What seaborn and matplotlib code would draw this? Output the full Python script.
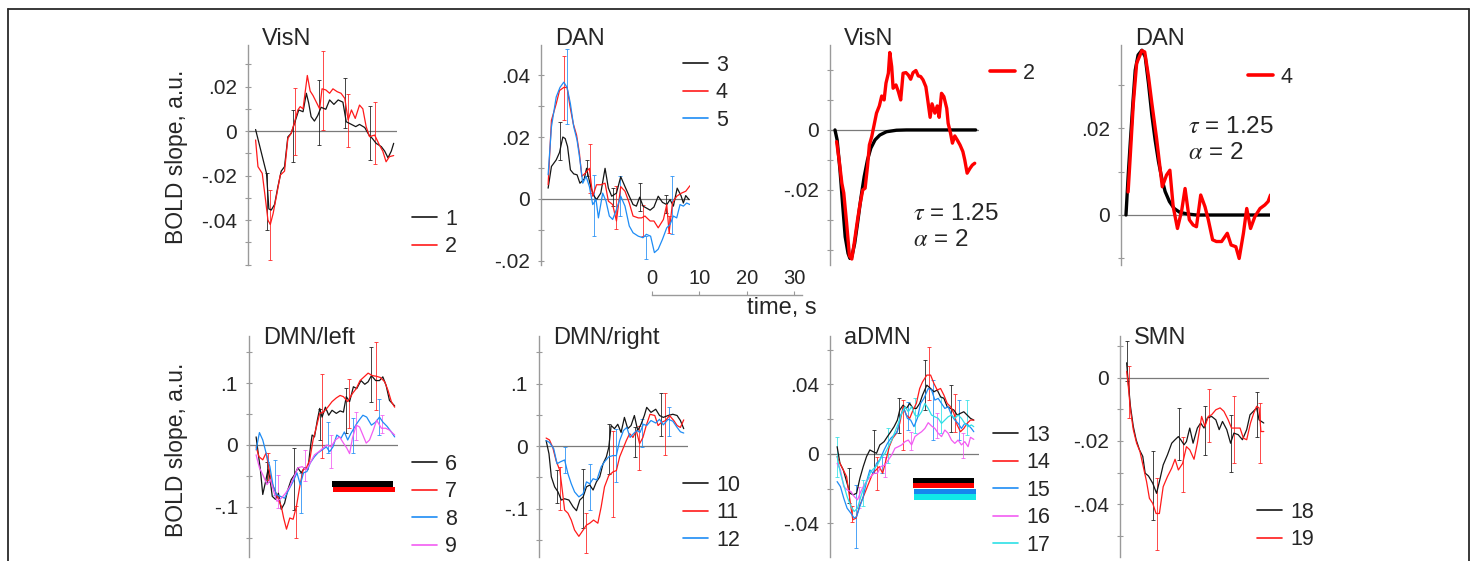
import numpy as np
import matplotlib
matplotlib.use("Agg")
import matplotlib.pyplot as plt
import seaborn as sns
from matplotlib.lines import Line2D
from matplotlib.ticker import FuncFormatter, MultipleLocator, FixedLocator

sns.set_style("white")
plt.rcParams["font.family"] = ["Liberation Sans", "DejaVu Sans"]
plt.rcParams["mathtext.fontset"] = "stix"
plt.rcParams["axes.unicode_minus"] = False

# ---------------- data: (time s, BOLD slope) ----------------
vis1 = [(1.6,.0007),(2.5,-.007),(3.2,-.013),(3.9,-.019),(4.4,-.035),(4.9,-.0355),(5.6,-.033),(6.3,-.025),(7.0,-.018),(7.7,-.016),(8.4,-.0026),(9.1,-.001),(9.8,.0035),(10.7,.0095),(11.6,.0087),(12.3,.017),(12.8,.0125),(13.3,.0065),(14.0,.0045),(14.7,.007),(15.4,.0107),(16.4,.0098),(17.2,.014),(18.1,.012),(19.0,.014),(20.0,.013),(20.7,.0042),(21.8,.003),(22.7,.002),(23.5,.003),(24.6,.0016),(25.5,-.0018),(26.2,-.0033),(27.0,-.0055),(28.1,-.007),(28.8,-.009),(29.5,-.012),(30.2,-.009),(30.7,-.0055)]
vis2 = [(1.6,-.004),(2.1,-.016),(3.0,-.019),(3.7,-.031),(4.2,-.040),(4.7,-.042),(5.3,-.037),(6.1,-.028),(6.8,-.0198),(7.7,-.018),(8.4,-.0033),(9.1,-.001),(9.8,.004),(10.5,.0095),(11.0,.011),(11.6,.010),(12.5,.025),(13.1,.018),(13.7,.016),(14.4,.013),(15.1,.010),(15.6,.019),(16.4,.0185),(17.2,.017),(17.9,.019),(18.8,.0177),(19.6,.017),(20.4,.0147),(21.1,.005),(21.8,.0095),(22.6,.0057),(23.5,.0117),(24.2,.010),(24.9,.002),(25.6,-.0025),(26.7,-.0018),(27.7,-.0063),(28.4,-.009),(29.1,-.0138),(29.8,-.0115),(30.7,-.011)]
vis1_err = [(3.9,-.0446,-.019),(9.5,-.0138,.0095),(14.9,-.0063,.023),(20.4,.0012,.0237),(25.8,-.013,.0113)]
vis2_err = [(4.6,-.058,-.0266),(10.0,-.0108,.0192),(15.7,.0005,.0362),(21.0,-.007,.0167),(26.7,-.0149,.0129)]

dan3 = [(1.5,.0035),(2.2,.0105),(3.2,.0126),(3.9,.015),(4.6,.020),(5.1,.0195),(5.6,.0169),(6.2,.0094),(6.9,.0081),(7.6,.0078),(8.2,.0051),(9.1,.0064),(9.6,.0099),(10.3,.0051),(11.0,.0014),(11.7,-.0002),(12.6,.0019),(13.5,.0099),(14.2,.0035),(14.9,.0009),(15.9,.0019),(16.8,.0072),(17.7,.004),(18.6,.0009),(19.4,-.0018),(20.1,-.0023),(20.8,.0006),(21.5,-.0023),(22.2,-.0029),(23.0,-.0036),(23.8,-.0026),(24.7,.0009),(25.6,-.0011),(26.5,-.0018),(27.2,-.0002),(27.9,-.0023),(28.7,.0035),(29.5,.0011),(30.0,-.0013),(30.5,.0011),(31.2,-.0002)]
dan4 = [(1.5,.0046),(2.2,.0254),(3.2,.0307),(3.9,.035),(4.8,.036),(5.5,.036),(6.1,.030),(6.8,.0243),(7.5,.0206),(8.1,.0147),(8.6,.0073),(9.3,.0083),(10.2,.0099),(10.9,.0009),(11.7,.0046),(12.6,.0046),(13.5,.0051),(14.2,-.0007),(15.1,-.0018),(15.9,-.0071),(16.8,.004),(17.7,.0025),(18.6,-.0013),(19.4,-.0055),(20.5,-.0061),(21.2,-.0061),(21.9,-.0055),(23.0,-.0071),(23.8,-.0071),(24.7,-.0093),(25.8,-.0066),(26.5,-.0018),(27.0,-.0109),(27.7,-.0013),(28.6,.0009),(29.6,.0019),(30.5,.0025),(31.4,.0043)]
dan5 = [(1.5,.0078),(2.2,.0233),(3.2,.0329),(4.0,.036),(4.8,.0377),(5.5,.036),(6.2,.0307),(6.9,.0233),(7.6,.019),(8.2,.0126),(8.8,.0051),(9.5,.0073),(10.2,.004),(10.9,-.0018),(11.6,-.0002),(12.1,-.0061),(13.0,.0019),(13.7,-.0007),(14.4,-.0055),(15.1,-.0066),(15.9,-.0034),(16.8,.0009),(17.7,-.0023),(18.6,-.0087),(19.4,-.0109),(20.5,-.012),(21.5,-.0125),(22.2,-.0114),(23.1,-.012),(23.9,-.0173),(24.7,-.0162),(25.6,-.013),(26.5,-.0093),(27.2,-.0082),(27.9,-.0055),(28.6,-.0061),(29.3,-.0018),(30.0,-.0023),(30.7,-.0013),(31.4,-.0018)]
dan3_err = [(4.0,.0126,.0249),(9.6,.0073,.0126),(15.2,-.0023,.0035),(20.8,-.0039,.0051),(26.3,-.0045,.0014)]
dan4_err = [(4.8,.0254,.0462),(10.3,.0019,.0179),(15.9,-.0098,.0041),(21.4,-.012,-.0018),(26.9,-.0109,-.0055)]
dan5_err = [(5.5,.0243,.0483),(11.2,-.012,.0078),(16.6,-.0055,.0073),(22.2,-.0194,-.012),(27.7,-.0114,.0073)]

fitvis_red = [(1.4,-.0039),(2.0,-.011),(2.5,-.0178),(2.9,-.021),(3.5,-.031),(4.1,-.042),(4.6,-.043),(5.1,-.0378),(5.8,-.030),(6.3,-.025),(6.9,-.020),(7.4,-.0194),(7.9,-.0122),(8.3,-.005),(8.8,-.0022),(9.3,.0017),(9.8,.0056),(10.4,.008),(10.9,.0113),(11.4,.010),(11.8,.0156),(12.3,.0189),(12.6,.0258),(13.0,.0211),(13.3,.0139),(13.9,.015),(14.4,.0128),(14.9,.010),(15.4,.0189),(16.0,.0191),(16.5,.0183),(17.0,.0169),(17.5,.0191),(18.1,.0198),(18.6,.018),(19.1,.0178),(19.6,.0167),(20.2,.0144),(20.5,.0111),(21.1,.0042),(21.5,.0087),(22.1,.0056),(22.6,.008),(23.0,.0042),(23.5,.0122),(24.0,.0111),(24.6,.0072),(24.9,.0022),(25.4,-.0011),(25.8,-.0044),(26.3,-.002),(26.8,-.0033),(27.4,-.005),(28.0,-.0072),(28.4,-.010),(28.9,-.0144),(29.5,-.0128),(30.0,-.0117),(30.5,-.0111)]
fitvis_model = [(1.05,0),(1.5,-.0033),(2.1,-.0133),(2.7,-.0256),(3.2,-.0356),(3.8,-.0411),(4.2,-.0428),(4.6,-.0422),(5.2,-.0378),(5.8,-.0311),(6.5,-.0228),(7.2,-.0156),(7.9,-.010),(8.6,-.0061),(9.5,-.0033),(10.5,-.0017),(11.9,-.0006),(14.0,-.0001),(16.1,0),(30.7,0)]

fitdan_red = [(1.5,.0053),(1.9,.0126),(2.6,.0257),(3.3,.0349),(4.4,.0378),(5.0,.0375),(5.8,.0318),(6.5,.0257),(7.5,.0176),(8.2,.0111),(8.7,.0065),(9.6,.0092),(10.3,.0103),(11.0,.0019),(11.9,-.0031),(12.8,.0011),(13.5,.0061),(14.4,-.0011),(15.2,-.0023),(15.9,-.0027),(16.8,.0046),(17.7,.0019),(18.4,-.0011),(19.3,-.0057),(20.1,-.0061),(21.2,-.0061),(22.4,-.0042),(23.2,-.0069),(24.2,-.0073),(24.9,-.010),(25.8,-.0042),(26.5,.0015),(27.3,-.0031),(28.2,-.0004),(29.3,.0015),(30.3,.0023),(31.0,.0031),(31.5,.0046)]
fitdan_model = [(1.05,0),(1.5,.0088),(1.9,.0157),(2.5,.0257),(3.0,.0333),(3.6,.0368),(4.4,.0379),(5.1,.0364),(5.8,.0302),(6.5,.023),(7.2,.0172),(7.9,.0123),(8.6,.0084),(9.3,.0054),(10.2,.0031),(11.2,.0015),(12.4,.0006),(14.2,.0002),(15.9,0),(31.4,0)]

dmnl6 = [(1.5,.013),(1.9,-.011),(2.4,-.040),(2.9,-.080),(3.5,-.059),(4.0,-.040),(4.4,-.053),(4.9,-.083),(5.6,-.088),(6.2,-.078),(6.8,-.104),(7.5,-.094),(8.2,-.072),(8.9,-.056),(9.6,-.048),(10.3,-.037),(11.0,-.045),(11.7,-.037),(12.4,-.040),(13.0,0),(13.3,.016),(13.8,.013),(14.4,.040),(14.9,.059),(15.4,.045),(16.1,.061),(16.8,.048),(17.5,.056),(18.4,.051),(19.2,.055),(19.9,.053),(20.5,.078),(21.2,.070),(22.0,.094),(22.7,.091),(23.6,.104),(24.4,.098),(25.1,.102),(25.8,.112),(26.7,.104),(27.5,.104),(28.2,.110),(28.9,.096),(29.6,.072),(30.7,.063)]
dmnl7 = [(1.5,-.003),(2.1,-.019),(2.9,-.024),(3.6,-.013),(4.2,-.037),(4.7,-.059),(5.4,-.072),(6.1,-.086),(6.8,-.099),(7.3,-.118),(7.9,-.136),(8.6,-.118),(9.3,-.120),(10.0,-.099),(10.7,-.067),(11.4,-.040),(12.1,-.037),(12.8,-.024),(13.5,.008),(14.2,.029),(14.9,.051),(15.7,.053),(16.6,.061),(17.5,.070),(18.4,.076),(19.2,.080),(19.9,.078),(20.8,.070),(21.8,.083),(22.6,.091),(23.4,.104),(24.4,.111),(25.1,.116),(26.0,.112),(26.8,.111),(27.7,.109),(28.6,.102),(29.3,.088),(30.0,.070),(30.7,.061)]
dmnl8 = [(1.5,-.008),(2.2,.020),(2.9,.008),(3.6,-.013),(4.4,-.035),(5.1,-.067),(5.8,-.080),(6.6,-.083),(7.5,-.086),(8.4,-.072),(9.3,-.059),(10.1,-.045),(10.8,-.064),(11.5,-.045),(12.2,-.043),(12.9,-.029),(13.8,-.019),(14.5,-.013),(15.4,-.008),(16.3,-.003),(17.0,-.011),(17.7,-.003),(18.5,.016),(19.4,.011),(20.1,.021),(20.8,.008),(21.5,.019),(22.5,.032),(23.2,.040),(24.0,.048),(24.8,.045),(25.8,.032),(26.7,.037),(27.5,.045),(28.2,.037),(29.1,.030),(30.0,.021),(30.7,.013)]
dmnl9 = [(1.5,-.016),(2.2,-.037),(2.9,-.048),(3.8,-.064),(4.5,-.056),(5.2,-.075),(5.9,-.091),(6.8,-.086),(7.7,-.078),(8.6,-.067),(9.4,-.053),(10.3,-.037),(11.2,-.035),(12.1,-.040),(12.9,-.029),(13.8,-.016),(14.7,-.011),(15.6,-.005),(16.4,0),(17.3,-.003),(18.2,.008),(19.1,.013),(19.9,.003),(20.6,-.005),(21.2,-.014),(21.8,.011),(22.6,.032),(23.3,.029),(24.0,.016),(24.7,.003),(25.4,.008),(26.2,.024),(26.9,.040),(27.9,.027),(28.8,.027),(29.6,.024),(30.7,.016)]
dmnl6_err = [(3.8,-.0604,-.0283),(9.4,-.1043,-.0053),(14.9,.008,.0588),(20.4,.0187,.0925),(25.8,.0695,.1578)]
dmnl7_err = [(4.0,-.0561,-.0134),(10.0,-.1497,-.0989),(15.4,-.0214,.115),(21.1,.0267,.107),(26.7,.0561,.1658)]
dmnl8_err = [(5.4,-.0802,-.0241),(11.0,-.1096,-.0455),(16.6,-.0134,.0374),(21.9,-.0134,.0428),(27.4,.016,.0749)]
dmnl9_err = [(6.1,-.1016,-.0481),(11.7,-.0588,-.008),(17.3,-.0374,.016),(22.6,.008,.0535),(28.1,.0187,.0481)]
dmnl_sig = [(17.4,30.4,-.0673,-.058,"#000000"),(17.6,30.7,-.0753,-.0673,"#ff0000")]

dmnr10 = [(1.5,.009),(2.1,-.012),(2.6,-.049),(3.3,-.065),(4.0,-.073),(4.7,-.086),(5.4,-.084),(6.3,-.086),(7.2,-.097),(7.9,-.103),(8.6,-.086),(9.3,-.081),(10.0,-.065),(10.7,-.062),(11.4,-.070),(12.1,-.057),(12.8,-.049),(13.5,-.028),(14.2,-.017),(14.7,-.002),(15.2,.033),(15.9,.028),(16.6,.035),(17.3,.022),(18.0,.046),(18.7,.028),(19.4,.033),(20.1,.049),(20.8,.025),(21.5,.035),(22.2,.049),(22.7,.062),(23.6,.054),(24.6,.059),(25.4,.049),(26.2,.046),(27.2,.049),(28.2,.051),(29.1,.049),(29.8,.041),(30.5,.028)]
dmnr11 = [(1.5,.013),(2.2,.010),(2.9,-.002),(3.6,-.023),(4.4,-.039),(4.9,-.070),(5.4,-.102),(6.1,-.107),(6.8,-.118),(7.5,-.134),(8.4,-.144),(9.3,-.134),(10.0,-.126),(10.7,-.123),(11.5,-.118),(12.4,-.123),(13.1,-.097),(13.8,-.065),(14.7,-.047),(15.6,-.041),(16.3,-.039),(17.0,-.017),(17.7,-.004),(18.4,.009),(19.1,.020),(19.8,.014),(20.5,.025),(21.2,.004),(21.9,.014),(22.6,.033),(23.4,.051),(24.4,.049),(25.1,.033),(25.8,.038),(26.7,.041),(27.5,.049),(28.4,.041),(29.1,.033),(29.8,.030),(30.5,.042)]
dmnr12 = [(1.5,.009),(2.2,.006),(3.1,-.004),(3.8,-.028),(4.5,-.025),(5.4,-.022),(6.1,-.044),(6.8,-.060),(7.5,-.073),(8.4,-.081),(9.3,-.076),(10.0,-.057),(10.7,-.060),(11.4,-.052),(12.2,-.054),(13.1,-.033),(13.8,-.025),(14.7,-.017),(15.6,-.015),(16.3,-.015),(17.0,.009),(17.8,.025),(18.5,.030),(19.2,.014),(19.9,.020),(20.6,.025),(21.3,.022),(22.0,.035),(22.7,.033),(23.6,.041),(24.6,.037),(25.4,.043),(26.2,.034),(27.2,.043),(28.2,.040),(29.1,.030),(29.8,.023),(30.5,.021)]
dmnr10_err = [(3.8,-.0915,-.0386),(9.3,-.1312,-.036),(14.7,-.0439,.0354),(20.3,-.0175,.0302),(25.8,.0169,.0857)]
dmnr11_err = [(4.5,-.1021,-.0333),(10.0,-.1709,-.1074),(15.6,-.1127,.0249),(21.0,-.0386,.0328),(26.5,-.0148,.0857)]
dmnr12_err = [(5.4,-.0429,-.0005),(10.8,-.1021,-.028),(16.3,-.0571,.0275),(21.8,-.0016,.0434),(27.3,.0169,.063)]

admn13 = [(1.5,.0042),(2.1,-.0054),(2.8,-.0092),(3.5,-.0159),(4.2,-.0226),(4.9,-.0235),(5.6,-.0226),(6.3,-.014),(7.0,-.0073),(7.7,-.0015),(8.4,.0023),(9.1,.0013),(9.8,.0004),(10.5,.0052),(11.4,.0071),(12.1,.010),(12.8,.0128),(13.5,.0157),(14.2,.0195),(14.7,.0253),(15.4,.0281),(16.1,.0262),(16.8,.0291),(17.5,.0262),(18.2,.0262),(18.9,.0291),(19.5,.0339),(20.4,.0396),(21.2,.0377),(21.9,.0358),(22.6,.0368),(23.3,.0329),(24.0,.032),(24.7,.0272),(25.4,.0262),(26.1,.0253),(26.8,.0224),(27.5,.0234),(28.2,.0243),(28.9,.0224),(29.6,.0205),(30.3,.0195)]
admn14 = [(1.5,-.0015),(2.1,-.0054),(2.8,-.0092),(3.5,-.013),(4.2,-.0264),(4.8,-.0379),(5.5,-.0369),(6.2,-.0302),(6.9,-.0255),(7.6,-.0207),(8.3,-.0159),(9.0,-.0111),(9.7,-.0092),(10.4,-.0073),(11.1,-.0111),(11.8,-.0034),(12.5,.0042),(13.2,.009),(14.0,.0119),(14.7,.0176),(15.4,.0272),(16.1,.0224),(16.8,.0205),(17.5,.0253),(18.2,.0291),(18.9,.0377),(19.5,.0415),(20.4,.0454),(21.2,.0454),(21.9,.0406),(22.6,.0368),(23.3,.0377),(24.0,.0339),(24.7,.0291),(25.4,.0272),(26.1,.0234),(26.8,.0167),(27.5,.0128),(28.2,.0147),(28.9,.0176),(29.6,.0195),(30.3,.0195)]
admn15 = [(1.5,-.0159),(2.2,-.0188),(2.9,-.0255),(3.6,-.0312),(4.4,-.0341),(5.1,-.0369),(5.6,-.036),(6.3,-.0302),(7.0,-.0245),(7.7,-.0159),(8.4,-.0092),(9.1,-.0111),(9.8,-.0054),(10.5,-.0034),(11.4,.0023),(12.1,.0061),(12.8,.009),(13.5,.0109),(14.2,.0128),(14.9,.0224),(15.6,.0262),(16.3,.0205),(17.0,.0195),(17.7,.0157),(18.4,.0205),(19.1,.0291),(19.8,.032),(20.7,.0377),(21.4,.0368),(22.1,.031),(22.8,.032),(23.5,.0291),(24.2,.0262),(24.9,.0272),(25.6,.0224),(26.3,.0195),(27.0,.0176),(27.7,.0147),(28.4,.0176),(29.1,.0167),(29.8,.0147),(30.3,.0128)]
admn16 = [(1.5,-.0054),(2.2,-.0092),(2.9,-.0188),(3.6,-.0207),(4.4,-.0216),(5.1,-.0245),(5.8,-.0264),(6.5,-.0216),(7.2,-.0178),(7.9,-.0149),(8.6,-.013),(9.3,-.0111),(10.0,-.0111),(10.7,-.0073),(11.6,-.0063),(12.3,-.0034),(13.0,-.0006),(13.7,.0033),(14.4,.0042),(15.1,.0052),(15.8,.0071),(16.5,.008),(17.2,.0052),(17.9,.010),(18.6,.0115),(19.3,.0128),(20.0,.0147),(20.7,.018),(21.4,.0161),(22.1,.0147),(22.8,.0119),(23.5,.010),(24.2,.0138),(24.9,.0119),(25.6,.008),(26.3,.0061),(27.0,.008),(27.7,.0052),(28.4,.0071),(29.1,.0042),(29.6,.0096),(30.3,.0084)]
admn17 = [(1.5,-.0015),(2.2,-.0111),(2.9,-.0178),(3.6,-.0245),(4.4,-.0302),(5.1,-.0331),(5.8,-.0312),(6.5,-.0245),(7.2,-.0188),(7.9,-.0149),(8.6,-.0101),(9.3,-.0082),(10.0,-.0063),(10.7,-.0025),(11.6,.0004),(12.3,.0042),(13.0,.008),(13.7,.0128),(14.4,.0176),(15.1,.0234),(15.8,.0272),(16.5,.0243),(17.2,.0272),(17.9,.0224),(18.6,.0214),(19.3,.0243),(20.0,.0291),(20.7,.0262),(21.4,.0224),(22.1,.0214),(22.8,.0205),(23.5,.0176),(24.2,.0195),(24.9,.0214),(25.6,.0224),(26.3,.0205),(27.0,.0224),(27.7,.0205),(28.4,.0176),(29.1,.0157),(29.8,.0167),(30.3,.0157)]
admn13_err = [(3.9,-.0283,-.0082),(9.3,-.0111,.0138),(14.6,.0119,.032),(20.1,.0253,.054),(25.6,.0128,.0396)]
admn14_err = [(4.6,-.0389,-.0302),(10.0,-.0207,-.0015),(15.4,.0023,.031),(20.9,.031,.0616),(26.3,.0128,.0348)]
admn15_err = [(5.4,-.0542,-.0178),(10.9,-.0111,-.0015),(16.4,.0138,.030),(21.8,.008,.0425),(27.2,.008,.031)]
admn16_err = [(6.1,-.0312,-.0188),(11.6,-.013,-.0015),(17.1,.0023,.0128),(22.5,.009,.0234),(28.1,-.0025,.0119)]
admn17_err = [(1.5,-.013,.010),(6.9,-.0302,-.0149),(12.3,-.0054,.0147),(17.9,.0119,.032),(23.3,.0119,.0329),(28.8,.0109,.031)]
admn_sig = [(17.4,30.4,-.0166,-.0137,"#000000"),(17.4,30.4,-.0198,-.0166,"#ff0000"),(17.7,30.7,-.0232,-.0203,"#1587ee"),(17.7,30.7,-.0265,-.0232,"#10e8e8")]

smn18 = [(1.4,.0048),(1.75,-.0016),(2.2,-.009),(2.8,-.0154),(3.4,-.0196),(4.1,-.0228),(4.8,-.0249),(5.3,-.0302),(6.0,-.0311),(6.9,-.0334),(7.7,-.0366),(8.3,-.0329),(9.1,-.0276),(10.0,-.0244),(10.9,-.0207),(11.6,-.0196),(12.3,-.0186),(12.8,-.0196),(13.5,-.0212),(14.0,-.0202),(14.7,-.0159),(15.4,-.0207),(16.3,-.0159),(17.0,-.0143),(17.7,-.0159),(18.4,-.0127),(19.3,-.0122),(20.2,-.0133),(20.9,-.0164),(21.6,-.0138),(22.5,-.0164),(23.3,-.0207),(24.0,-.0175),(24.9,-.018),(25.8,-.0196),(26.7,-.0164),(27.4,-.0117),(28.1,-.0106),(28.8,-.0095),(29.3,-.0133),(30.3,-.0143)]
smn19 = [(1.4,.0021),(1.75,-.0027),(2.2,-.0101),(2.8,-.0164),(3.5,-.0207),(4.2,-.0233),(4.9,-.0281),(5.6,-.0329),(6.2,-.0382),(6.9,-.0398),(7.6,-.043),(8.3,-.043),(9.1,-.0345),(10.0,-.0313),(10.9,-.0286),(11.6,-.0258),(12.3,-.0292),(13.2,-.0271),(14.0,-.0218),(14.7,-.0228),(15.6,-.0258),(16.3,-.0207),(17.2,-.0122),(17.9,-.0154),(18.6,-.0122),(19.3,-.0117),(20.2,-.0101),(21.1,-.0095),(21.9,-.0106),(22.8,-.0133),(23.5,-.0159),(24.4,-.0159),(25.3,-.0159),(26.0,-.0191),(26.7,-.0196),(27.5,-.0143),(28.2,-.0111),(28.8,-.009),(29.3,-.0095),(29.7,-.017),(30.3,-.017)]
smn18_err = [(1.5,-.0011,.0117),(7.0,-.0451,-.0233),(12.4,-.026,-.0095),(17.9,-.0244,-.009),(23.3,-.0297,-.0117),(28.8,-.0186,-.0046)]
smn19_err = [(2.0,-.0127,.0037),(7.7,-.0546,-.0318),(13.2,-.0361,-.0186),(18.7,-.0202,-.0035),(24.1,-.0271,-.0058),(29.5,-.0271,-.008)]

time_ticks = [0, 10, 20, 30]

BLK, RED, BLU, MAG, CYN = "#151515", "#ff1a1a", "#1e8cf5", "#f25cf2", "#2ee0e6"

# ---------------- layout (pixels) ----------------
W, H = 1473, 561
fig = plt.figure(figsize=(W / 100, H / 100), dpi=100)

def fx(px):
    return px / W

def fy(py):
    return 1 - py / H

def fmt(v, _):
    if abs(v) < 1e-12:
        return "0"
    s = "%g" % round(v, 4)
    return s.replace("0.", ".", 1)

panels = [
    dict(title="VisN", left=248, top=45, bot=265, ylim=(-0.0602, 0.0387), ticks=[0.02, 0, -0.02, -0.04], minor=0.01,
         series=[(vis1, vis1_err, BLK, "1"), (vis2, vis2_err, RED, "2")], leg=(412, 219), tdy=0, ylabel=157),
    dict(title="DAN", left=541, top=45, bot=265, ylim=(-0.0213, 0.0497), ticks=[0.04, 0.02, 0, -0.02], minor=0.01,
         series=[(dan3, dan3_err, BLK, "3"), (dan4, dan4_err, RED, "4"), (dan5, dan5_err, BLU, "5")], leg=(683, 65), tdy=0),
    dict(title="VisN", left=830, top=45, bot=265, ylim=(-0.045, 0.0283), ticks=[0, -0.02], minor=0.01,
         fit=(fitvis_red, fitvis_model, "2"), leg=(990, 73), tdy=0, ann=(913, 203)),
    dict(title="DAN", left=1121, top=45, bot=265, ylim=(-0.0115, 0.0391), ticks=[0.02, 0], minor=0.01,
         fit=(fitdan_red, fitdan_model, "4"), leg=(1248, 77), tdy=0, ann=(1188, 116)),
    dict(title="DMN/left", left=249, top=336, bot=557, ylim=(-0.181, 0.176), ticks=[0.1, 0, -0.1], minor=0.05,
         series=[(dmnl6, dmnl6_err, BLK, "6"), (dmnl7, dmnl7_err, RED, "7"), (dmnl8, dmnl8_err, BLU, "8"), (dmnl9, dmnl9_err, MAG, "9")],
         sig=dmnl_sig, leg=(412, 464), tdy=8, ylabel=450),
    dict(title="DMN/right", left=539, top=336, bot=557, ylim=(-0.177, 0.176), ticks=[0.1, 0, -0.1], minor=0.05,
         series=[(dmnr10, dmnr10_err, BLK, "10"), (dmnr11, dmnr11_err, RED, "11"), (dmnr12, dmnr12_err, BLU, "12")], leg=(683, 485), tdy=8),
    dict(title="aDMN", left=830, top=336, bot=557, ylim=(-0.0593, 0.0679), ticks=[0.04, 0, -0.04], minor=0.02,
         series=[(admn13, admn13_err, BLK, "13"), (admn14, admn14_err, RED, "14"), (admn15, admn15_err, BLU, "15"),
                 (admn16, admn16_err, MAG, "16"), (admn17, admn17_err, CYN, "17")], sig=admn_sig, leg=(993, 435), tdy=8),
    dict(title="SMN", left=1120, top=336, bot=557, ylim=(-0.0568, 0.0133), ticks=[0, -0.02, -0.04], minor=0.01,
         series=[(smn18, smn18_err, BLK, "18"), (smn19, smn19_err, RED, "19")], leg=(1257, 512), tdy=8),
]

PW = 149
XMAX = 31.4
AX_GRAY = "#9a9a9a"
LEG_FS = 15.5

for p in panels:
    h = p["bot"] - p["top"]
    ax = fig.add_axes([fx(p["left"]), fy(p["bot"]), PW / W, h / H])
    ax.patch.set_alpha(0)
    ax.set_xlim(0, XMAX)
    ax.set_ylim(*p["ylim"])
    for s in ["top", "right", "bottom"]:
        ax.spines[s].set_visible(False)
    ax.spines["left"].set_color(AX_GRAY)
    ax.spines["left"].set_linewidth(1.0)
    ax.set_xticks([])
    ax.yaxis.set_major_locator(FixedLocator(p["ticks"]))
    ax.yaxis.set_minor_locator(MultipleLocator(p["minor"]))
    ax.yaxis.set_major_formatter(FuncFormatter(fmt))
    ax.tick_params(axis="y", which="both", direction="inout", length=4, width=0.8, color=AX_GRAY,
                   labelsize=15, pad=6, left=True)
    ax.axhline(0, color="#7a7a7a", lw=0.9, zorder=1)
    ax.set_xlabel("")
    ax.set_ylabel("")

    handles, labels = [], []
    if "series" in p:
        for data, err, col, lab in p["series"]:
            arr = np.array(data)
            sns.lineplot(x=arr[:, 0], y=arr[:, 1], color=col, linewidth=0.9, ax=ax,
                         estimator=None, sort=False, legend=False, zorder=3)
            e = np.array(err)
            mid = (e[:, 1] + e[:, 2]) / 2
            half = (e[:, 2] - e[:, 1]) / 2
            ax.errorbar(e[:, 0], mid, yerr=half, fmt="none", ecolor=col, elinewidth=0.7,
                        capsize=1.6, capthick=0.7, alpha=0.8, zorder=2)
            handles.append(Line2D([], [], color=col, lw=1.2))
            labels.append(lab)
    if "fit" in p:
        red, model, lab = p["fit"]
        m = np.array(model)
        r = np.array(red)
        sns.lineplot(x=m[:, 0], y=m[:, 1], color="#000000", linewidth=2.4, ax=ax,
                     estimator=None, sort=False, legend=False, zorder=3)
        sns.lineplot(x=r[:, 0], y=r[:, 1], color="#ff0000", linewidth=2.4, ax=ax,
                     estimator=None, sort=False, legend=False, zorder=4)
        handles.append(Line2D([], [], color="#ff0000", lw=2.6))
        labels.append(lab)
        ax.text(fx(p["ann"][0]), fy(p["ann"][1]), "$\\tau$ = 1.25\n$\\alpha$ = 2", transform=fig.transFigure,
                ha="left", va="top", fontsize=17.5, linespacing=1.25)
    if "sig" in p:
        for s0, s1, lo, hi, col in p["sig"]:
            ax.barh(y=(lo + hi) / 2, width=s1 - s0, left=s0, height=hi - lo, color=col,
                    edgecolor="none", zorder=5)

    ax.text(14 / PW, 1 - p["tdy"] / h, p["title"], transform=ax.transAxes, ha="left",
            va="baseline", fontsize=17)

    lx, ly = p["leg"]
    ax.legend(handles, labels, loc="upper left", bbox_to_anchor=(fx(lx), fy(ly - 10)),
              bbox_transform=fig.transFigure, frameon=False, fontsize=LEG_FS, handlelength=1.15,
              handletextpad=0.38, labelspacing=0.3, borderpad=0, borderaxespad=0)

    if "ylabel" in p:
        fig.text(fx(176), fy(p["ylabel"]), "BOLD slope, a.u.", rotation=90, ha="center",
                 va="center", fontsize=16.5)

# time scale bar
axs = fig.add_axes([fx(652), fy(295), 150 / W, 0.0005])
axs.patch.set_alpha(0)
axs.set_xlim(0, 31.7)
axs.set_yticks([])
for s in ["left", "right", "bottom"]:
    axs.spines[s].set_visible(False)
axs.spines["top"].set_color(AX_GRAY)
axs.spines["top"].set_linewidth(1.0)
axs.xaxis.tick_top()
axs.set_xticks(time_ticks)
axs.set_xticklabels([str(t) for t in time_ticks])
axs.tick_params(axis="x", direction="out", length=3, width=0.8, color=AX_GRAY, labelsize=14.5, pad=2)
fig.text(fx(817), fy(308), "time, s", ha="right", va="center", fontsize=17)

# figure frame
fc = "#2a2a2a"
fig.add_artist(Line2D([fx(8), fx(8)], [0, fy(9)], transform=fig.transFigure, color=fc, lw=1.3))
fig.add_artist(Line2D([fx(8), fx(1469)], [fy(9), fy(9)], transform=fig.transFigure, color=fc, lw=1.3))
fig.add_artist(Line2D([fx(1469), fx(1469)], [0, fy(9)], transform=fig.transFigure, color=fc, lw=1.3))

fig.savefig("out.png", dpi=100)
